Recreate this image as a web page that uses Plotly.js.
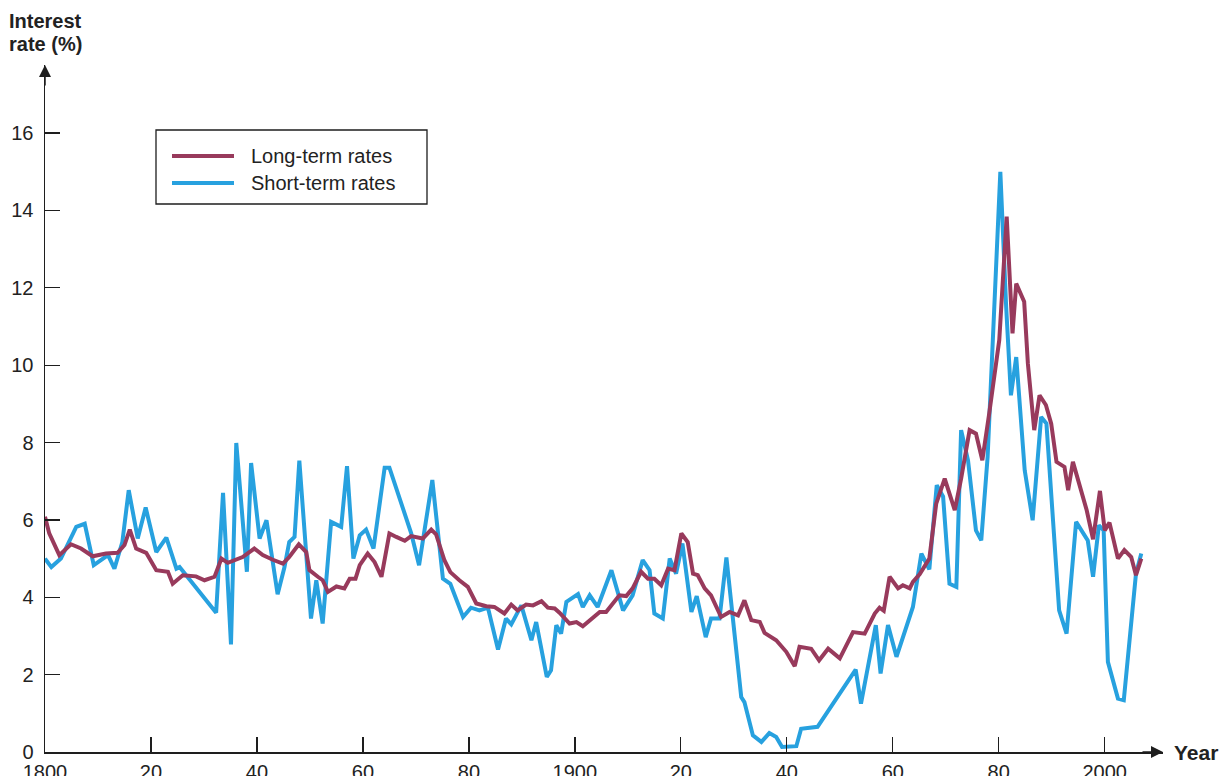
<!DOCTYPE html>
<html>
<head>
<meta charset="utf-8">
<script src="https://cdn.plot.ly/plotly-3.0.1.min.js"></script>
<style>
  html, body { margin: 0; padding: 0; background: #ffffff; }
  #chart { width: 1228px; height: 776px; }
</style>
</head>
<body>
<div id="chart"></div>
<script>
// ---------------- DATA ----------------
const seriesNames = ["Long-term rates", "Short-term rates"];

const longYears = [
  1800.0, 1800.8, 1802.7, 1804.9, 1806.8, 1809.0, 1811.5, 1813.7, 1815.0, 1816.0,
  1817.2, 1819.1, 1821.0, 1823.2, 1824.1, 1826.0, 1828.5, 1830.1, 1832.0, 1833.3,
  1834.5, 1837.3, 1839.5, 1841.1, 1843.0, 1844.9, 1846.1, 1847.9, 1849.3, 1849.9,
  1851.5, 1852.4, 1853.4, 1855.0, 1856.5, 1857.5, 1858.6, 1859.4, 1860.9, 1862.2,
  1863.5, 1865.0, 1866.3, 1867.9, 1869.1, 1871.3, 1872.9, 1873.8, 1875.4, 1876.5,
  1878.2, 1879.8, 1881.4, 1883.3, 1884.8, 1886.7, 1888.0, 1889.2, 1890.8, 1892.1,
  1893.7, 1894.9, 1896.2, 1897.1, 1899.0, 1900.3, 1901.5, 1903.4, 1904.7, 1905.9,
  1907.2, 1908.4, 1909.7, 1910.9, 1912.5, 1913.8, 1915.0, 1916.3, 1917.6, 1918.8,
  1920.1, 1921.3, 1922.3, 1923.2, 1924.5, 1925.7, 1927.6, 1929.2, 1930.8, 1932.0,
  1933.3, 1934.9, 1935.8, 1938.0, 1939.9, 1941.5, 1942.4, 1944.6, 1946.1, 1947.8,
  1950.0, 1952.5, 1954.7, 1956.6, 1957.5, 1958.3, 1959.4, 1961.0, 1961.9, 1963.2,
  1963.8, 1965.1, 1966.9, 1968.2, 1969.8, 1971.7, 1972.9, 1974.5, 1975.7, 1976.9,
  1978.2, 1980.1, 1981.5, 1982.0, 1982.6, 1983.3, 1984.8, 1985.5, 1986.7, 1987.7,
  1988.9, 1989.9, 1990.9, 1992.4, 1993.1, 1994.0, 1996.6, 1997.8, 1999.1, 2000.0,
  2000.9, 2002.5, 2003.7, 2005.0, 2005.9, 2006.9
];
const longRates = [
  6.08, 5.65, 5.09, 5.37, 5.26, 5.06, 5.13, 5.15, 5.35, 5.75,
  5.26, 5.15, 4.70, 4.66, 4.35, 4.57, 4.54, 4.44, 4.53, 5.00,
  4.89, 5.04, 5.26, 5.09, 4.97, 4.87, 5.04, 5.37, 5.17, 4.70,
  4.53, 4.44, 4.14, 4.28, 4.23, 4.48, 4.48, 4.83, 5.13, 4.91,
  4.53, 5.65, 5.56, 5.46, 5.58, 5.52, 5.75, 5.63, 4.95, 4.65,
  4.44, 4.27, 3.84, 3.77, 3.75, 3.58, 3.81, 3.66, 3.81, 3.79,
  3.90, 3.73, 3.71, 3.60, 3.32, 3.36, 3.25, 3.49, 3.62, 3.62,
  3.84, 4.05, 4.03, 4.23, 4.66, 4.48, 4.48, 4.31, 4.74, 4.70,
  5.65, 5.43, 4.61, 4.57, 4.23, 4.05, 3.49, 3.62, 3.53, 3.92,
  3.41, 3.36, 3.08, 2.89, 2.59, 2.22, 2.72, 2.67, 2.37, 2.67,
  2.42, 3.10, 3.06, 3.58, 3.73, 3.65, 4.53, 4.23, 4.31, 4.23,
  4.40, 4.60, 5.00, 6.42, 7.07, 6.25, 7.07, 8.32, 8.23, 7.54,
  8.75, 10.65, 13.84, 12.54, 10.82, 12.11, 11.64, 10.04, 8.32, 9.22,
  8.97, 8.49, 7.50, 7.37, 6.77, 7.50, 6.25, 5.50, 6.75, 5.73,
  5.93, 5.00, 5.22, 5.04, 4.57, 5.00
];

const shortYears = [
  1800.0, 1801.2, 1803.0, 1805.9, 1807.5, 1809.2, 1811.9, 1813.1, 1814.6, 1815.8,
  1817.5, 1819.0, 1821.0, 1822.9, 1824.8, 1825.4, 1832.3, 1833.6, 1835.1, 1836.1,
  1838.1, 1838.9, 1840.5, 1841.8, 1843.9, 1845.2, 1846.1, 1847.1, 1848.0, 1849.2,
  1850.2, 1851.2, 1852.4, 1854.0, 1855.9, 1857.0, 1858.2, 1859.4, 1860.6, 1862.0,
  1864.1, 1865.0, 1869.1, 1870.6, 1873.1, 1875.1, 1876.5, 1878.9, 1880.4, 1882.0,
  1883.6, 1885.5, 1887.0, 1888.0, 1889.9, 1891.8, 1892.7, 1894.7, 1895.5, 1896.5,
  1897.4, 1898.4, 1900.6, 1901.5, 1902.8, 1904.3, 1906.9, 1909.1, 1910.9, 1912.8,
  1914.1, 1915.0, 1916.6, 1917.9, 1919.1, 1920.3, 1922.0, 1923.0, 1924.7, 1925.7,
  1927.3, 1928.6, 1931.4, 1932.0, 1933.6, 1935.2, 1936.7, 1938.0, 1939.1, 1941.8,
  1942.7, 1945.8, 1953.0, 1954.0, 1956.8, 1957.7, 1959.1, 1960.7, 1963.8, 1965.4,
  1966.9, 1968.3, 1969.5, 1970.7, 1972.0, 1972.9, 1974.2, 1975.7, 1976.7, 1977.9,
  1978.8, 1980.3, 1981.4, 1982.3, 1983.3, 1984.9, 1986.4, 1988.0, 1989.0, 1991.4,
  1992.8, 1994.6, 1996.8, 1997.8, 1998.9, 1999.8, 2000.6, 2002.5, 2003.6, 2005.9,
  2006.9
];
const shortRates = [
  5.00, 4.78, 5.00, 5.82, 5.90, 4.83, 5.09, 4.74, 5.43, 6.77,
  5.52, 6.32, 5.17, 5.54, 4.74, 4.78, 3.60, 6.70, 2.78, 7.99,
  4.66, 7.47, 5.52, 5.99, 4.08, 4.78, 5.43, 5.56, 7.53, 5.39,
  3.45, 4.44, 3.32, 5.95, 5.82, 7.39, 5.00, 5.60, 5.75, 5.26,
  7.35, 7.35, 5.66, 4.83, 7.03, 4.48, 4.35, 3.49, 3.73, 3.66,
  3.73, 2.65, 3.45, 3.30, 3.79, 2.89, 3.36, 1.94, 2.11, 3.28,
  3.06, 3.88, 4.08, 3.75, 4.05, 3.75, 4.70, 3.66, 4.05, 4.96,
  4.70, 3.58, 3.45, 5.00, 4.61, 5.39, 3.62, 4.03, 2.97, 3.45,
  3.45, 5.03, 1.42, 1.29, 0.43, 0.26, 0.49, 0.39, 0.13, 0.15,
  0.60, 0.65, 2.13, 1.25, 3.28, 2.03, 3.28, 2.46, 3.75, 5.13,
  4.72, 6.90, 6.60, 4.35, 4.27, 8.32, 7.54, 5.73, 5.47, 7.63,
  10.39, 15.00, 11.51, 9.22, 10.21, 7.28, 5.99, 8.66, 8.49, 3.66,
  3.06, 5.95, 5.47, 4.53, 5.86, 5.73, 2.33, 1.38, 1.34, 4.61,
  5.13
];

const xTickVals = [1800, 1820, 1840, 1860, 1880, 1900, 1920, 1940, 1960, 1980, 2000];
const xTickText = ["1800", "20", "40", "60", "80", "1900", "20", "40", "60", "80", "2000"];
const yTickVals = [0, 2, 4, 6, 8, 10, 12, 14, 16];
const yTitleLines = ["Interest", "rate (%)"];
const xTitle = "Year";

// ---------------- STYLE ----------------
const W = 1228, H = 776;
const M = { l: 45, r: 65, t: 65, b: 24 };
const plotW = W - M.l - M.r, plotH = H - M.t - M.b;
const px2x = p => (p - M.l) / plotW;     // page px -> paper x
const py2y = p => (H - M.b - p) / plotH; // page px -> paper y

const colLong = "#983a5c";
const colShort = "#27a1df";
const axisCol = "#1e1e1e";
const txtCol = "#222222";
const FONT = "Liberation Sans, Arial, Helvetica, sans-serif";
const FS = 20;

const traces = [
  { x: shortYears, y: shortRates, name: seriesNames[1], type: "scatter", mode: "lines",
    line: { color: colShort, width: 4, shape: "linear" }, hoverinfo: "x+y" },
  { x: longYears, y: longRates, name: seriesNames[0], type: "scatter", mode: "lines",
    line: { color: colLong, width: 4, shape: "linear" }, hoverinfo: "x+y" }
];

// custom legend (box + long line samples)
const legBox = { x0: px2x(156), x1: px2x(427), y0: py2y(204), y1: py2y(130) };
const legRows = [py2y(156), py2y(183)];
const shapes = [
  { type: "rect", xref: "paper", yref: "paper", x0: legBox.x0, x1: legBox.x1, y0: legBox.y0, y1: legBox.y1,
    line: { color: axisCol, width: 1.3 }, fillcolor: "rgba(255,255,255,1)", layer: "above" },
  { type: "line", xref: "paper", yref: "paper", x0: px2x(172), x1: px2x(234), y0: legRows[0], y1: legRows[0],
    line: { color: colLong, width: 4 }, layer: "above" },
  { type: "line", xref: "paper", yref: "paper", x0: px2x(172), x1: px2x(234), y0: legRows[1], y1: legRows[1],
    line: { color: colShort, width: 4 }, layer: "above" }
];

const annotations = [
  { xref: "paper", yref: "paper", x: px2x(249), y: legRows[0], text: seriesNames[0], showarrow: false,
    xanchor: "left", yanchor: "middle", font: { family: FONT, size: FS, color: txtCol } },
  { xref: "paper", yref: "paper", x: px2x(249), y: legRows[1], text: seriesNames[1], showarrow: false,
    xanchor: "left", yanchor: "middle", font: { family: FONT, size: FS, color: txtCol } },
  // y-axis title (two lines)
  { xref: "paper", yref: "paper", x: px2x(7), y: py2y(21), text: "<b>" + yTitleLines[0] + "</b>",
    showarrow: false, xanchor: "left", yanchor: "middle", font: { family: FONT, size: FS, color: txtCol } },
  { xref: "paper", yref: "paper", x: px2x(7), y: py2y(44), text: "<b>" + yTitleLines[1] + "</b>",
    showarrow: false, xanchor: "left", yanchor: "middle", font: { family: FONT, size: FS, color: txtCol } },
  // x-axis title
  { xref: "paper", yref: "paper", x: 1, y: 0, xshift: 9, text: "<b>" + xTitle + "</b>",
    showarrow: false, xanchor: "left", yanchor: "middle",
    font: { family: FONT, size: FS + 1, color: txtCol } },
  // axis arrowheads
  { xref: "paper", yref: "paper", x: 0, y: 1, ax: 0, ay: 22, axref: "pixel", ayref: "pixel",
    showarrow: true, arrowhead: 2, arrowsize: 1.6, arrowwidth: 1.5, arrowcolor: axisCol, text: "" },
  { xref: "paper", yref: "paper", x: 1, y: 0, ax: -22, ay: 0, axref: "pixel", ayref: "pixel",
    showarrow: true, arrowhead: 2, arrowsize: 1.6, arrowwidth: 1.5, arrowcolor: axisCol, text: "" }
];

const layout = {
  width: W, height: H,
  margin: M,
  paper_bgcolor: "#ffffff", plot_bgcolor: "#ffffff",
  showlegend: false,
  font: { family: FONT, size: FS, color: txtCol },
  xaxis: {
    range: [1800, 2011], showgrid: false, zeroline: false,
    showline: true, linecolor: axisCol, linewidth: 1.5,
    ticks: "inside", ticklen: 15, tickwidth: 1.3, tickcolor: axisCol,
    tickmode: "array", tickvals: xTickVals, ticktext: xTickText,
    tickfont: { family: FONT, size: FS, color: txtCol }, ticklabelstandoff: 1
  },
  yaxis: {
    range: [0, 17.76], showgrid: false, zeroline: false,
    showline: true, linecolor: axisCol, linewidth: 1.5,
    ticks: "inside", ticklen: 15, tickwidth: 1.3, tickcolor: axisCol,
    tickmode: "array", tickvals: yTickVals,
    tickfont: { family: FONT, size: FS, color: txtCol }, ticklabelstandoff: 6
  },
  shapes: shapes,
  annotations: annotations
};

Plotly.newPlot("chart", traces, layout, { displayModeBar: false, staticPlot: true });
</script>
</body>
</html>
